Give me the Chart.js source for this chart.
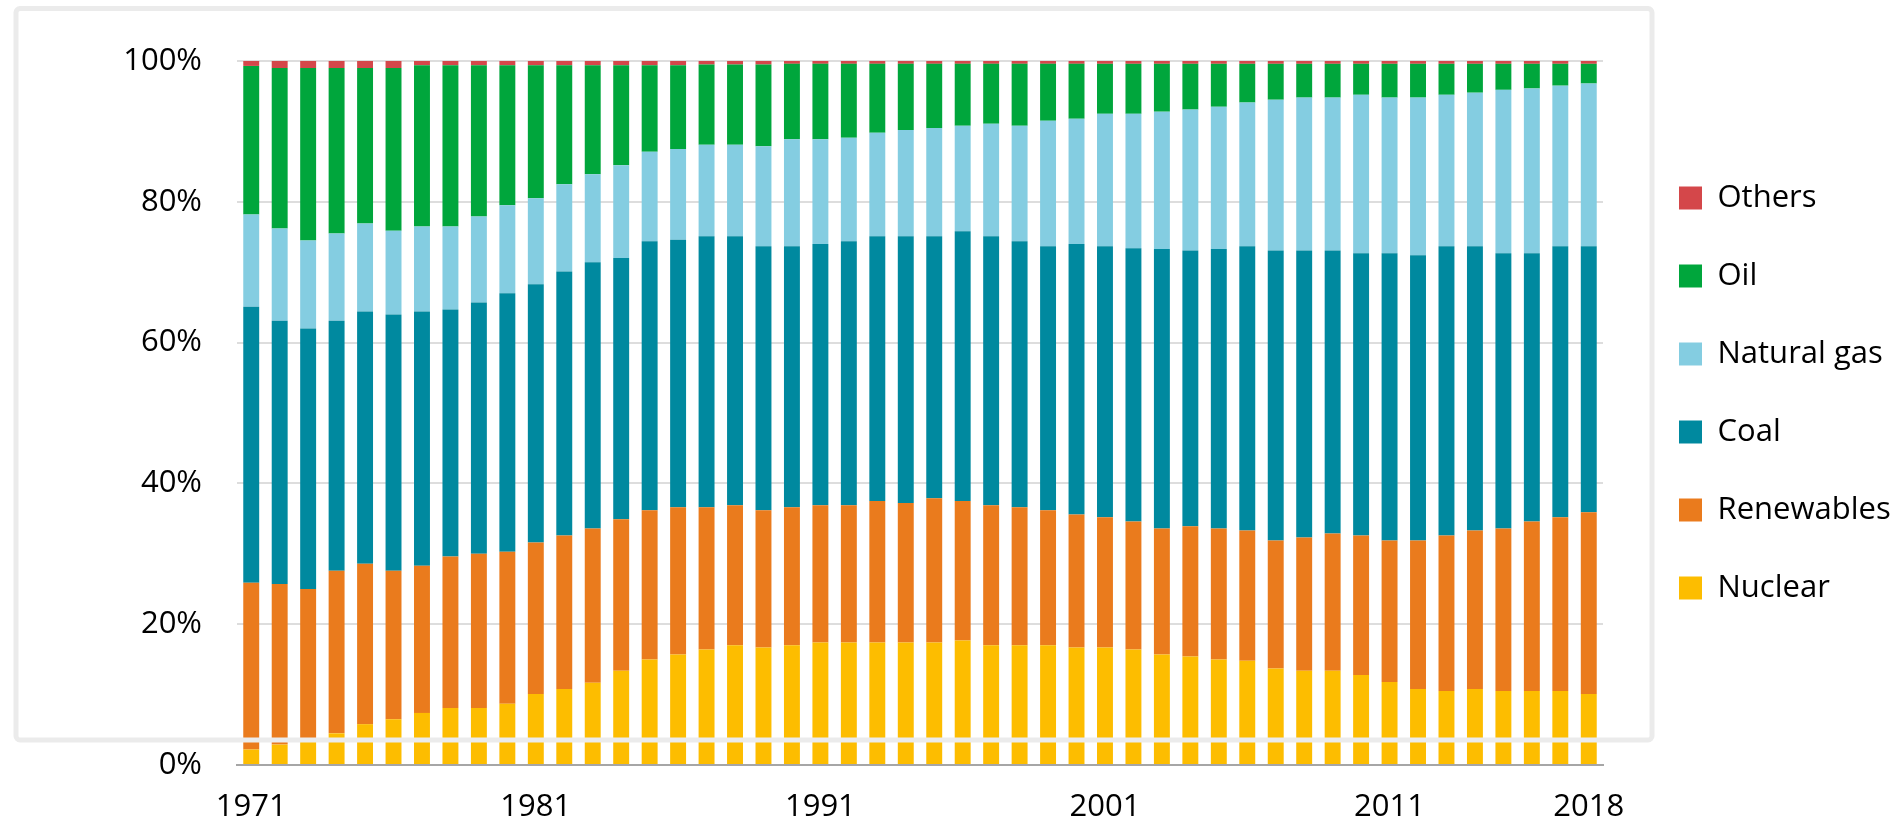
<!DOCTYPE html>
<html>
<head>
<meta charset="utf-8">
<script src="https://cdn.jsdelivr.net/npm/chart.js@4/dist/chart.umd.min.js"></script>
<style>
  html, body { margin: 0; padding: 0; background: #fff; }
  canvas { display: block; }
</style>
</head>
<body>
<canvas id="mixChart" width="1896" height="826"></canvas>
<script>
// Share of each source, % per year
const years = [];
for (let y = 1971; y <= 2018; y++) years.push(String(y));
const shownYears = ['1971', '1981', '1991', '2001', '2011', '2018'];

const nuclear = [2.2, 2.9, 3.4, 4.5, 5.8, 6.5, 7.4, 8.1, 8.1, 8.7,
  10.1, 10.8, 11.7, 13.4, 15.0, 15.7, 16.4, 17.0, 16.7, 17.0,
  17.4, 17.4, 17.4, 17.4, 17.4, 17.7, 17.0, 17.0, 17.0, 16.7,
  16.7, 16.4, 15.7, 15.4, 15.0, 14.8, 13.7, 13.4, 13.4, 12.8,
  11.8, 10.8, 10.5, 10.8, 10.5, 10.5, 10.5, 10.1];
const renewables = [23.7, 22.8, 21.6, 23.1, 22.8, 21.1, 20.9, 21.5, 21.9, 21.6,
  21.5, 21.8, 21.9, 21.5, 21.2, 20.9, 20.2, 19.9, 19.5, 19.6,
  19.5, 19.5, 20.1, 19.8, 20.5, 19.8, 19.9, 19.6, 19.2, 18.9,
  18.5, 18.2, 17.9, 18.5, 18.6, 18.5, 18.2, 18.9, 19.5, 19.8,
  20.1, 21.1, 22.1, 22.5, 23.1, 24.1, 24.7, 25.8];
const coal = [39.2, 37.4, 37.0, 35.5, 35.8, 36.4, 36.1, 35.1, 35.7, 36.7,
  36.7, 37.5, 37.8, 37.1, 38.2, 38.0, 38.5, 38.2, 37.5, 37.1,
  37.1, 37.5, 37.6, 37.9, 37.2, 38.3, 38.2, 37.8, 37.5, 38.4,
  38.5, 38.8, 39.7, 39.2, 39.7, 40.4, 41.2, 40.8, 40.2, 40.1,
  40.8, 40.5, 41.1, 40.4, 39.1, 38.1, 38.5, 37.8];
const naturalGas = [13.1, 13.1, 12.5, 12.4, 12.5, 11.9, 12.1, 11.8, 12.2, 12.5,
  12.2, 12.4, 12.5, 13.2, 12.7, 12.9, 13.0, 13.0, 14.2, 15.2,
  14.9, 14.7, 14.7, 15.1, 15.4, 15.0, 16.0, 16.4, 17.8, 17.8,
  18.8, 19.1, 19.5, 20.0, 20.2, 20.4, 21.4, 21.7, 21.7, 22.5,
  22.1, 22.4, 21.5, 21.8, 23.2, 23.4, 22.8, 23.1];
const oil = [21.1, 22.8, 24.5, 23.5, 22.1, 23.1, 22.9, 22.9, 21.5, 19.9,
  18.9, 16.9, 15.5, 14.2, 12.3, 11.9, 11.4, 11.4, 11.6, 10.7,
  10.7, 10.5, 9.8, 9.4, 9.1, 8.8, 8.5, 8.8, 8.1, 7.8,
  7.1, 7.1, 6.8, 6.5, 6.1, 5.5, 5.1, 4.8, 4.8, 4.4,
  4.8, 4.8, 4.4, 4.1, 3.7, 3.5, 3.1, 2.8];
const others = [0.7, 1.0, 1.0, 1.0, 1.0, 1.0, 0.6, 0.6, 0.6, 0.6,
  0.6, 0.6, 0.6, 0.6, 0.6, 0.6, 0.5, 0.5, 0.5, 0.4,
  0.4, 0.4, 0.4, 0.4, 0.4, 0.4, 0.4, 0.4, 0.4, 0.4,
  0.4, 0.4, 0.4, 0.4, 0.4, 0.4, 0.4, 0.4, 0.4, 0.4,
  0.4, 0.4, 0.4, 0.4, 0.4, 0.4, 0.4, 0.4];

const yTicks = [0, 20, 40, 60, 80, 100];

const FONT = '"Open Sans", "Noto Sans", sans-serif';
const TICK_SIZE = 31;
const LEGEND_SIZE = 31;
const LEGEND_PAD = 47;
const LEGEND_BOX = 23;

// plot box in page pixels
const PLOT_LEFT = 237, PLOT_TOP = 61, PLOT_RIGHT = 1603, PLOT_BOTTOM = 765;

function textWidth(txt, size) {
  const c = document.createElement('canvas').getContext('2d');
  c.font = size + 'px ' + FONT;
  return c.measureText(txt).width;
}
const legendNames = ['Nuclear', 'Renewables', 'Coal', 'Natural gas', 'Oil', 'Others'];
const legendW = LEGEND_PAD + LEGEND_BOX + LEGEND_SIZE / 2 +
  Math.max(...legendNames.map(n => textWidth(n, LEGEND_SIZE))) + 10;

// light frame around the plot, drawn over the bars like in the source
const framePlugin = {
  id: 'frame',
  afterDatasetsDraw(chart) {
    const ctx = chart.ctx;
    ctx.save();
    ctx.strokeStyle = '#EBEBEB';
    ctx.lineWidth = 5;
    ctx.beginPath();
    ctx.roundRect(16, 8.5, 1636, 731.5, 4);
    ctx.stroke();
    ctx.restore();
  }
};

// move legend next to the frame
const legendPlace = {
  id: 'legendPlace',
  afterLayout(chart) {
    const lg = chart.legend;
    if (!lg) return;
    const boxLeft = 1679;
    const w = lg.right - lg.left;
    lg.left = boxLeft - LEGEND_PAD;
    lg.right = lg.left + w;
    const y0 = 198 - LEGEND_SIZE / 2;
    const colH = 6 * (LEGEND_SIZE + LEGEND_PAD);
    lg.top = 0;
    lg.bottom = 2 * y0 - LEGEND_PAD + colH;
  }
};

const datasets = [
  { label: 'Nuclear', data: nuclear, backgroundColor: '#FDBD00' },
  { label: 'Renewables', data: renewables, backgroundColor: '#EA7B1D' },
  { label: 'Coal', data: coal, backgroundColor: '#00899F' },
  { label: 'Natural gas', data: naturalGas, backgroundColor: '#84CDE1' },
  { label: 'Oil', data: oil, backgroundColor: '#00A63C' },
  { label: 'Others', data: others, backgroundColor: '#D4474A' }
].map(d => Object.assign(d, { borderWidth: 0, barPercentage: 0.56, categoryPercentage: 1 }));

new Chart(document.getElementById('mixChart'), {
  type: 'bar',
  data: { labels: years, datasets },
  plugins: [framePlugin, legendPlace],
  options: {
    responsive: false,
    animation: false,
    events: [],
    layout: {
      padding: { top: PLOT_TOP, left: 0, bottom: 0, right: 1896 - PLOT_RIGHT - legendW }
    },
    plugins: {
      tooltip: { enabled: false },
      legend: {
        position: 'right',
        reverse: true,
        labels: {
          boxWidth: LEGEND_BOX,
          boxHeight: LEGEND_BOX,
          padding: LEGEND_PAD,
          color: '#000',
          font: { family: FONT, size: LEGEND_SIZE }
        }
      }
    },
    scales: {
      x: {
        stacked: true,
        grid: { display: false, drawTicks: false },
        border: { display: true, color: '#A6A6A6', width: 2 },
        ticks: {
          autoSkip: false,
          maxRotation: 0,
          padding: 24,
          color: '#000',
          font: { family: FONT, size: TICK_SIZE },
          callback: (v, i) => shownYears.includes(years[i]) ? years[i] : ''
        },
        afterFit(scale) { scale.height = 826 - PLOT_BOTTOM; }
      },
      y: {
        stacked: true,
        min: 0,
        max: 100,
        afterBuildTicks(scale) { scale.ticks = yTicks.map(v => ({ value: v })); },
        grid: {
          drawTicks: false,
          lineWidth: 2,
          color: c => c.tick && c.tick.value === 0 ? 'rgba(0,0,0,0)' : '#DDDDDD'
        },
        border: { display: false },
        ticks: {
          padding: 35,
          color: '#000',
          font: { family: FONT, size: TICK_SIZE },
          callback: v => v + '%'
        },
        afterFit(scale) { scale.width = PLOT_LEFT; }
      }
    }
  }
});
</script>
</body>
</html>
